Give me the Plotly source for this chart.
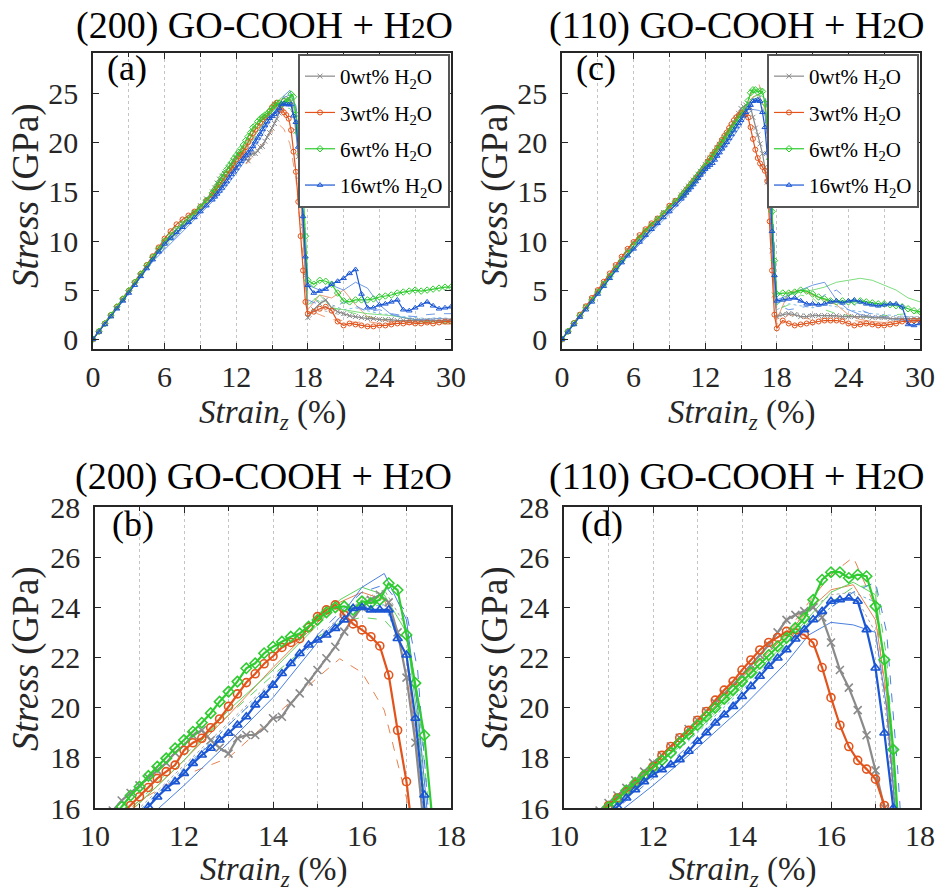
import plotly.graph_objects as go

# ---------------- data ----------------
STRAIN = [0, 0.5, 1, 1.5, 2, 2.5, 3, 3.5, 4, 4.5, 5, 5.5, 6, 6.5, 7, 7.5, 8, 8.5, 9, 9.5, 10,
          10.2, 10.4, 10.6, 10.8, 11.0, 11.2, 11.4, 11.6, 11.8, 12.0,
          12.2, 12.4, 12.6, 12.8, 13.0, 13.2, 13.4, 13.6, 13.8, 14.0,
          14.2, 14.4, 14.6, 14.8, 15.0, 15.2, 15.4, 15.6, 15.8, 16.0,
          16.2, 16.4, 16.6, 16.8, 17.0, 17.2, 17.4, 17.6, 17.8, 18.0,
          18.5, 19, 19.5, 20, 20.5, 21, 21.5, 22, 22.5, 23, 23.5, 24,
          24.5, 25, 25.5, 26, 26.5, 27, 27.5, 28, 28.5, 29, 29.5, 30]

# (200) GO-COOH + H2O  -- main (marked) curves
S200_0WT = [0, 0.8, 1.6, 2.4, 3.2, 4.0, 4.85, 5.7, 6.55, 7.4, 8.25, 9.1, 9.9, 10.6, 11.2, 11.8, 12.3, 12.9, 13.6, 14.3, 15.0,
            15.4, 15.9, 16.3, 16.6, 16.9, 17.2, 17.5, 17.8, 18.2, 18.5,
            18.9, 19.1, 18.7, 18.4, 18.17, 18.78, 18.91, 18.91, 19.18, 19.58,
            19.64, 20.17, 20.57, 21.04, 21.5, 21.97, 22.43, 23.03, 23.56, 24.0,
            24.3, 24.5, 24.2, 23.0, 21.2, 18.6, 15.6, 11.5, 6.5, 2.2,
            3.0, 3.6, 4.0, 3.2, 2.8, 2.6, 2.4, 2.3, 2.2, 2.1, 2.1, 2.0,
            2.0, 2.0, 1.9, 1.9, 1.9, 1.9, 1.9, 1.9, 1.9, 1.9, 1.9, 1.9]
S200_3WT = [0, 0.8, 1.6, 2.45, 3.3, 4.1, 4.95, 5.8, 6.65, 7.55, 8.45, 9.35, 10.25, 11.0, 11.7, 12.2, 12.6, 13.0, 13.5, 14.1, 14.7,
            15.05, 15.4, 15.75, 16.1, 16.45, 16.82, 17.18, 17.45, 17.71, 18.3,
            18.6, 18.78, 19.2, 19.55, 20.05, 20.55, 21.0, 21.35, 21.75, 22.05,
            22.4, 22.6, 22.75, 23.2, 23.63, 23.9, 24.1, 23.7, 23.34, 23.1,
            22.83, 22.46, 21.3, 19.1, 17.05, 14.0, 10.5, 7.0, 3.8, 2.6,
            2.8, 3.1, 3.3, 2.9, 1.8, 1.4, 1.6, 1.5, 1.4, 1.3, 1.3, 1.4,
            1.4, 1.5, 1.6, 1.6, 1.7, 1.6, 1.6, 1.7, 1.6, 1.7, 1.8, 1.8]
S200_6WT = [0, 0.8, 1.6, 2.45, 3.3, 4.1, 4.95, 5.8, 6.65, 7.5, 8.35, 9.2, 10.0, 10.6, 11.2, 11.75, 12.3, 12.85, 13.45, 14.15, 14.9,
            15.25, 15.65, 16.05, 16.5, 16.85, 17.28, 17.65, 17.98, 18.38, 18.71,
            19.04, 19.4, 19.78, 20.24, 20.64, 21.04, 21.57, 21.77, 22.17, 22.43,
            22.63, 22.83, 22.96, 23.23, 23.5, 23.8, 24.0, 24.04, 23.9, 24.24,
            24.17, 24.3, 24.96, 24.69, 22.9, 20.98, 18.9, 15.2, 10.5, 6.0,
            5.6, 6.0, 5.9, 5.6, 4.7, 3.9, 3.8, 4.0, 4.0, 4.0, 4.1, 4.3,
            4.4, 4.5, 4.7, 4.8, 4.9, 5.0, 4.9, 5.0, 5.1, 5.2, 5.3, 5.3]
S200_16WT = [0, 0.75, 1.5, 2.3, 3.1, 3.9, 4.7, 5.5, 6.4, 7.2, 8.1, 8.9, 9.7, 10.3, 10.9, 11.4, 11.9, 12.4, 13.0, 13.6, 14.2,
             14.5, 14.8, 15.1, 15.4, 15.75, 16.05, 16.44, 16.78, 17.05, 17.38,
             17.78, 18.11, 18.38, 18.71, 18.98, 19.31, 19.64, 20.11, 20.5, 20.9,
             21.36, 21.76, 22.16, 22.5, 22.7, 22.9, 23.16, 23.5, 23.96, 24.0,
             23.9, 23.9, 23.9, 22.76, 22.1, 19.58, 16.52, 12.5, 8.4, 5.5,
             4.7, 4.9, 5.1, 5.6, 5.9, 6.2, 6.7, 7.1, 4.6, 3.2, 3.2, 3.5,
             3.6, 3.8, 4.0, 3.0, 2.9, 3.2, 3.5, 3.8, 3.4, 3.1, 3.2, 3.3]

# (110) GO-COOH + H2O  -- main (marked) curves
S110_0WT = [0, 0.8, 1.6, 2.45, 3.3, 4.1, 4.9, 5.75, 6.6, 7.45, 8.3, 9.1, 9.8, 10.5, 11.1, 11.7, 12.3, 12.9, 13.5, 14.1, 14.7,
            15.0, 15.3, 15.6, 15.9, 16.2, 16.5, 16.8, 17.1, 17.45, 17.8,
            18.1, 18.45, 18.8, 19.15, 19.5, 19.85, 20.2, 20.55, 20.9, 21.3,
            21.7, 22.1, 22.5, 23.0, 23.5, 23.7, 23.85, 24.0, 23.6, 22.6,
            21.5, 20.8, 19.9, 18.9, 17.5, 16.0, 13.5, 9.0, 4.5, 2.3,
            2.5, 2.6, 2.5, 2.3, 2.3, 2.4, 2.4, 2.4, 2.4, 2.4, 2.3, 2.3,
            2.3, 2.3, 2.3, 2.2, 2.2, 2.2, 2.1, 2.1, 2.1, 2.1, 2.1, 2.1]
S110_3WT = [0, 0.8, 1.65, 2.5, 3.35, 4.2, 5.0, 5.85, 6.7, 7.55, 8.4, 9.2, 9.9, 10.6, 11.2, 11.8, 12.3, 12.8, 13.6, 14.1, 14.6,
            14.9, 15.2, 15.5, 15.8, 16.1, 16.4, 16.65, 16.95, 17.3, 17.65,
            18.1, 18.45, 18.8, 19.1, 19.5, 19.85, 20.3, 20.7, 21.05, 21.5,
            21.9, 22.3, 22.6, 22.8, 23.04, 22.98, 22.91, 22.58, 21.6, 20.4,
            19.3, 18.45, 17.9, 17.55, 17.15, 16.1, 12.0, 7.0, 2.5, 1.1,
            1.9, 1.6, 1.4, 1.5, 1.6, 1.7, 1.8, 1.9, 1.9, 1.9, 1.8, 1.6,
            1.4, 1.5, 1.6, 1.5, 1.4, 1.4, 1.5, 1.6, 1.8, 1.8, 1.9, 1.9]
S110_6WT = [0, 0.8, 1.6, 2.4, 3.2, 4.0, 4.8, 5.6, 6.4, 7.2, 8.0, 8.8, 9.6, 10.3, 11.0, 11.6, 12.2, 12.8, 13.4, 14.0, 14.6,
            14.85, 15.15, 15.45, 15.75, 16.05, 16.35, 16.7, 17.0, 17.3, 17.6,
            17.9, 18.2, 18.6, 18.95, 19.3, 19.65, 20.0, 20.35, 20.7, 21.05,
            21.4, 21.75, 22.1, 22.45, 22.78, 23.18, 23.57, 24.3, 25.1, 25.4,
            25.4, 25.17, 25.3, 25.24, 24.04, 21.91, 18.33, 13.0, 8.0, 4.6,
            4.7, 4.7, 4.8, 5.0, 4.9, 4.6, 4.3, 4.1, 3.9, 3.8, 3.9, 3.8,
            3.8, 3.9, 3.8, 3.7, 3.6, 3.6, 3.5, 3.4, 3.3, 3.1, 2.9, 2.8]
S110_16WT = [0, 0.75, 1.5, 2.25, 3.0, 3.8, 4.6, 5.4, 6.2, 7.0, 7.8, 8.5, 9.2, 9.9, 10.6, 11.2, 11.8, 12.4, 13.0, 13.7, 14.3,
             14.6, 14.9, 15.2, 15.45, 15.75, 16.05, 16.4, 16.73, 17.05, 17.33,
             17.53, 17.73, 17.93, 18.26, 18.66, 19.0, 19.39, 19.72, 20.05, 20.45,
             20.85, 21.25, 21.65, 21.98, 22.31, 22.74, 23.11, 23.51, 23.84, 24.24,
             24.3, 24.37, 24.24, 23.11, 21.58, 18.99, 16.0, 11.0, 6.5, 3.9,
             4.0, 4.1, 4.2, 3.9, 3.6, 3.6, 3.5, 3.6, 3.8, 3.9, 3.7, 3.9,
             4.0, 3.8, 3.6, 3.5, 3.4, 3.5, 3.6, 3.6, 3.3, 1.5, 1.4, 1.6]

# thin (unmarked) replicate curves
THIN_X = [0, 5, 10, 11, 12, 13, 14, 15, 15.5, 16, 16.5, 17, 17.25, 17.5, 18,
          19, 20, 21, 22, 23, 24, 25, 26, 27, 28, 29, 30]

T200_BLUE_A = [0, 7.9, 14.0, 15.3, 16.9, 18.6, 20.4, 22.6, 23.6, 24.8, 25.35, 23.5, 20.0, 15.0, 5.5,
               5.0, 5.5, 5.0, 5.8, 5.2, 3.5, 2.5, 2.2, 2.0, 2.0, 2.1, 2.0]
T200_BLUE_B = [0, 8.0, 14.3, 15.8, 17.5, 19.3, 21.0, 22.9, 23.8, 24.6, 24.9, 23.8, 21.5, 16.5, 4.0,
               3.5, 3.0, 3.8, 3.4, 2.8, 3.0, 2.6, 2.4, 2.3, 2.5, 2.6, 2.6]
T200_GREEN_A = [0, 8.2, 14.6, 16.2, 17.9, 19.9, 21.5, 23.3, 24.3, 24.8, 24.5, 23.0, 19.5, 14.5, 3.5,
                4.5, 3.2, 3.0, 2.8, 2.6, 2.5, 2.4, 2.2, 2.0, 1.8, 1.7, 1.6]
T200_GREEN_B = [0, 8.3, 14.7, 16.3, 18.1, 19.7, 21.3, 22.8, 23.4, 23.6, 23.5, 22.5, 20.5, 16.0, 4.5,
                3.8, 3.2, 2.9, 2.6, 2.3, 2.1, 2.0, 1.9, 1.8, 1.7, 1.7, 1.6]
T200_ORANGE_A = [0, 8.4, 14.6, 16.2, 17.9, 19.7, 21.6, 23.4, 24.2, 24.6, 24.3, 22.0, 18.0, 12.0, 3.0,
                 4.5, 4.2, 5.0, 3.5, 2.3, 2.0, 1.8, 1.8, 1.7, 1.9, 1.8, 1.7]
T200_ORANGE_B = [0, 8.5, 14.8, 16.3, 17.3, 18.0, 19.6, 21.2, 21.95, 21.4, 19.9, 16.4, 13.0, 9.0, 3.0,
                 2.5, 2.0, 1.9, 1.7, 1.8, 1.6, 1.6, 1.5, 1.5, 1.6, 1.6, 1.5]
T200_GRAY_A = [0, 8.1, 14.5, 16.0, 17.7, 19.4, 21.1, 22.8, 23.6, 24.3, 24.7, 23.2, 20.0, 14.0, 2.0,
               3.0, 2.7, 2.4, 2.2, 2.0, 2.0, 1.9, 1.9, 1.8, 1.8, 1.8, 1.8]
T200_CYAN_A = [0, 8.0, 14.4, 15.9, 17.6, 19.3, 21.0, 22.7, 23.4, 24.0, 24.1, 22.0, 18.5, 13.0, 3.5,
               4.0, 3.5, 3.0, 3.2, 2.9, 2.6, 2.5, 2.3, 2.2, 2.1, 2.2, 2.1]

T110_BLUE_A = [0, 7.8, 14.0, 15.5, 16.9, 18.4, 20.0, 21.8, 22.9, 23.4, 23.3, 23.0, 20.0, 15.0, 4.0,
               4.5, 5.0, 5.5, 5.8, 4.0, 3.0, 2.5, 2.3, 2.2, 2.0, 1.9, 1.8]
T110_BLUE_B = [0, 7.9, 14.2, 15.7, 17.2, 18.8, 20.5, 22.3, 23.3, 24.0, 24.6, 25.0, 23.0, 17.5, 3.5,
               3.0, 3.2, 3.5, 4.5, 5.0, 4.0, 3.0, 2.5, 2.3, 2.2, 2.0, 1.9]
T110_GREEN_A = [0, 8.0, 14.3, 15.9, 17.6, 19.2, 20.9, 22.6, 23.6, 24.6, 25.0, 24.5, 21.0, 15.5, 3.5,
                4.5, 4.8, 5.0, 5.3, 5.8, 6.0, 6.2, 6.0, 5.5, 5.0, 4.2, 3.8]
T110_GREEN_B = [0, 8.1, 14.4, 15.9, 17.5, 19.1, 20.8, 22.5, 23.4, 24.2, 24.8, 24.9, 22.0, 16.5, 3.0,
                3.5, 4.5, 4.2, 3.0, 2.6, 2.4, 2.3, 2.2, 2.4, 2.5, 2.6, 2.7]
T110_ORANGE_A = [0, 8.2, 14.5, 16.0, 17.7, 19.4, 21.1, 23.0, 24.2, 25.3, 26.0, 24.0, 20.0, 14.0, 1.5,
                 2.5, 2.2, 2.0, 2.1, 2.2, 2.0, 1.8, 1.6, 1.5, 1.6, 1.7, 1.8]
T110_ORANGE_B = [0, 8.3, 14.6, 16.1, 17.8, 19.5, 21.2, 22.9, 23.9, 24.7, 24.9, 23.5, 20.5, 15.0, 2.0,
                 4.8, 5.0, 4.5, 4.0, 3.5, 2.5, 2.0, 1.8, 1.7, 1.8, 1.9, 2.0]
T110_GRAY_A = [0, 8.1, 14.5, 16.1, 17.8, 19.5, 21.2, 23.0, 23.9, 24.5, 24.6, 23.0, 19.5, 14.0, 2.5,
               2.8, 2.6, 2.5, 2.4, 2.3, 2.3, 2.2, 2.2, 2.1, 2.1, 2.1, 2.1]
T110_CYAN_A = [0, 8.0, 14.3, 15.8, 17.4, 19.0, 20.7, 22.4, 23.3, 24.0, 24.6, 24.2, 21.0, 16.0, 3.0,
               3.6, 3.4, 3.2, 3.5, 3.3, 3.0, 2.8, 2.6, 2.5, 2.4, 2.3, 2.2]

LABELS = ["0wt% H<sub>2</sub>O", "3wt% H<sub>2</sub>O", "6wt% H<sub>2</sub>O", "16wt% H<sub>2</sub>O"]
PANEL_TITLES = ["(200) GO-COOH + H<span style='font-size:29px'>2</span>O",
                "(110) GO-COOH + H<span style='font-size:29px'>2</span>O"]

# ---------------- styles ----------------
COLORS = ["#8a8a8a", "#e2541c", "#2fcc2f", "#1b57d4"]
SYMBOLS = ["x-thin", "circle-open", "diamond-open", "triangle-up-open"]
THIN_COLORS = {"blue": "#4a7fe0", "green": "#5cd45c", "orange": "#e8824f",
               "gray": "#a3a3a3", "cyan": "#62b0e0"}
SERIF = "Liberation Serif"
AXC = "#262626"
W, H = 938, 892

fig = go.Figure()

main200 = [S200_0WT, S200_3WT, S200_6WT, S200_16WT]
main110 = [S110_0WT, S110_3WT, S110_6WT, S110_16WT]
thin200 = [(T200_ORANGE_B, "orange", "dash"), (T200_GRAY_A, "gray", "dot"), (T200_CYAN_A, "cyan", "dot"),
           (T200_GREEN_B, "green", "dash"), (T200_ORANGE_A, "orange", "solid"), (T200_GREEN_A, "green", "solid"),
           (T200_BLUE_B, "blue", "dash"), (T200_BLUE_A, "blue", "solid")]
thin110 = [(T110_GRAY_A, "gray", "dot"), (T110_CYAN_A, "cyan", "dot"), (T110_ORANGE_A, "orange", "dash"),
           (T110_ORANGE_B, "orange", "solid"), (T110_GREEN_B, "green", "dash"), (T110_GREEN_A, "green", "solid"),
           (T110_BLUE_A, "blue", "solid"), (T110_BLUE_B, "blue", "dash")]


def add_panel(mains, thins, xa, ya, legend, showleg, lw, ms, mlw, tw, tag):
    for y, cname, dash in thins:
        fig.add_trace(go.Scatter(x=THIN_X, y=y, mode="lines", xaxis=xa, yaxis=ya,
                                 line=dict(color=THIN_COLORS[cname], width=tw, dash=dash),
                                 showlegend=False, hoverinfo="skip"))
    for i, (y, lab, col, sym) in enumerate(zip(mains, LABELS, COLORS, SYMBOLS)):
        fig.add_trace(go.Scatter(x=STRAIN, y=y, mode="lines+markers", name=lab,
                                 xaxis=xa, yaxis=ya, legend=legend, showlegend=showleg,
                                 legendgroup=f"{tag}{i}",
                                 line=dict(color=col, width=lw),
                                 marker=dict(symbol=sym, size=ms, color=col,
                                             line=dict(color=col, width=mlw))))


add_panel(main200, thin200, "x", "y", "legend", True, 1.2, 5, 1.0, 0.8, "a")
add_panel(main110, thin110, "x2", "y2", "legend2", True, 1.2, 5, 1.0, 0.8, "c")
add_panel(main200, thin200, "x3", "y3", "legend", False, 2.2, 8, 1.6, 1.0, "a")
add_panel(main110, thin110, "x4", "y4", "legend2", False, 2.2, 8, 1.6, 1.0, "c")


def px_x(p):
    return p / W


def px_y(p):
    return 1 - p / H


def xaxis(dom, rng, dtick, mdtick, anchor):
    return dict(domain=[px_x(dom[0]), px_x(dom[1])], range=rng, anchor=anchor, automargin=False,
                tick0=rng[0], dtick=dtick, ticks="inside", ticklen=6, tickwidth=1.2, tickcolor=AXC,
                showline=True, linecolor=AXC, linewidth=1.6, mirror="ticks",
                showgrid=True, gridcolor="#c4c4c4", griddash="dot", gridwidth=1,
                zeroline=False, ticklabelstandoff=0,
                tickfont=dict(family=SERIF, size=30, color=AXC),
                minor=dict(tick0=rng[0], dtick=mdtick, ticks="inside", ticklen=4, tickcolor=AXC,
                           showgrid=True, gridcolor="#c4c4c4", griddash="dot", gridwidth=1))


def yaxis(dom, rng, dtick, anchor):
    return dict(domain=[px_y(dom[1]), px_y(dom[0])], range=rng, anchor=anchor, automargin=False,
                tick0=0, dtick=dtick, ticks="inside", ticklen=6, tickwidth=1.2, tickcolor=AXC,
                showline=True, linecolor=AXC, linewidth=1.6, mirror="ticks",
                showgrid=False, zeroline=False, ticklabelstandoff=7,
                tickfont=dict(family=SERIF, size=30, color=AXC))


TOP_Y = (53, 349)
BOT_Y = (507, 808)
LEG = dict(xanchor="right", yanchor="top", bgcolor="white", bordercolor="#555555", borderwidth=2,
           font=dict(family=SERIF, size=21, color="black"), itemwidth=30, tracegroupgap=6)
fig.update_layout(
    width=W, height=H, margin=dict(l=0, r=0, t=0, b=0, pad=0, autoexpand=False),
    paper_bgcolor="white", plot_bgcolor="white",
    xaxis=xaxis((93, 451), [0, 30], 6, 3, "y"),
    yaxis=yaxis(TOP_Y, [-1.0, 29.15], 5, "x"),
    xaxis2=xaxis((562, 920), [0, 30], 6, 3, "y2"),
    yaxis2=yaxis(TOP_Y, [-1.0, 29.15], 5, "x2"),
    xaxis3=xaxis((95, 451), [10, 18], 2, 1, "y3"),
    yaxis3=yaxis(BOT_Y, [16, 28], 2, "x3"),
    xaxis4=xaxis((564, 920), [10, 18], 2, 1, "y4"),
    yaxis4=yaxis(BOT_Y, [16, 28], 2, "x4"),
    legend=dict(x=px_x(450), y=px_y(54), **LEG),
    legend2=dict(x=px_x(919), y=px_y(54), **LEG),
)

ann = []
# panel titles
for cx, cy, t in [(264, 25, PANEL_TITLES[0]), (736, 25, PANEL_TITLES[1]),
                  (263, 476, PANEL_TITLES[0]), (736, 476, PANEL_TITLES[1])]:
    ann.append(dict(text=t, x=px_x(cx), y=px_y(cy), xref="paper", yref="paper",
                    xanchor="center", yanchor="middle", showarrow=False,
                    font=dict(family=SERIF, size=38, color="black")))
# panel letters
for cx, cy, t in [(127, 68, "(a)"), (596, 68, "(c)"), (133, 524, "(b)"), (602, 524, "(d)")]:
    ann.append(dict(text=t, x=px_x(cx), y=px_y(cy), xref="paper", yref="paper",
                    xanchor="center", yanchor="middle", showarrow=False,
                    font=dict(family=SERIF, size=36, color="black")))
# axis titles
for cx, cy in [(272, 414), (741, 414), (273, 871), (742, 871)]:
    ann.append(dict(text="<i>Strain<sub>z</sub></i> (%)", x=px_x(cx), y=px_y(cy),
                    xref="paper", yref="paper", xanchor="center", yanchor="middle",
                    showarrow=False, font=dict(family=SERIF, size=33, color=AXC)))
for cx, cy in [(26, 196), (495, 196), (26, 659), (495, 659)]:
    ann.append(dict(text="<i>Stress</i> (GPa)", x=px_x(cx), y=px_y(cy), textangle=-90,
                    xref="paper", yref="paper", xanchor="center", yanchor="middle",
                    showarrow=False, font=dict(family=SERIF, size=37, color=AXC)))
# top "30" labels drawn above the clipped axis box
for ya, xr in [("y", 85), ("y2", 554)]:
    ann.append(dict(text="30", x=px_x(xr), y=30, xref="paper", yref=ya,
                    xanchor="right", yanchor="middle", showarrow=False,
                    font=dict(family=SERIF, size=30, color=AXC)))
fig.update_layout(annotations=ann)

fig.write_html("out.html")
